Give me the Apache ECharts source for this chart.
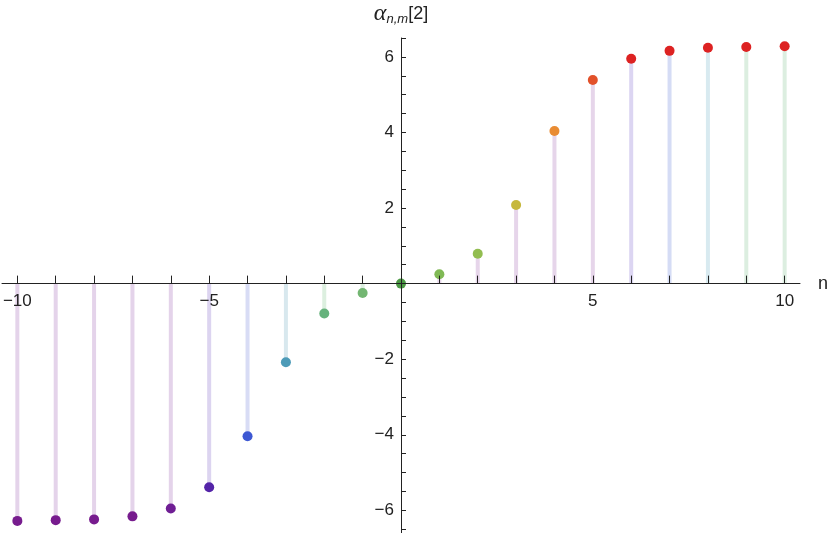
<!DOCTYPE html>
<html>
<head>
<meta charset="utf-8">
<script src="https://cdn.jsdelivr.net/npm/echarts@6/dist/echarts.min.js"></script>
<style>
  html, body { margin: 0; padding: 0; background: #fff; }
  #chart { width: 830px; height: 533px; }
</style>
</head>
<body>
<div id="chart"></div>
<script>
// n values and alpha_{n,m}[2]
var nValues = [-10, -9, -8, -7, -6, -5, -4, -3, -2, -1, 0, 1, 2, 3, 4, 5, 6, 7, 8, 9, 10];
var alphaValues = [-6.28, -6.26, -6.24, -6.16, -5.95, -5.39, -4.04, -2.08, -0.79, -0.25, 0,
                   0.25, 0.79, 2.08, 4.04, 5.39, 5.95, 6.16, 6.24, 6.26, 6.28];
var dotColors = ['#771c8e', '#771c8e', '#771c8e', '#771c8e', '#6f1e94', '#5424a8', '#3d58d3',
                 '#4d9bb8', '#66b27c', '#73b672', '#4c9a44', '#80b955', '#92bd50', '#c6b83c',
                 '#e98c33', '#e2512a', '#dd2222', '#dd2222', '#dd2222', '#dd2222', '#dd2222'];
var stemColors = ['#e4d3ea', '#e4d3ea', '#e4d3ea', '#e4d3ea', '#e4d3ea', '#dcd4f0', '#d8dcf5',
                  '#d8e8ee', '#dcefdf', '#dcefdf', 'rgba(0,0,0,0)', '#e6d5ea', '#e6d5ea', '#e6d5ea',
                  '#e6d5ea', '#e6d5ea', '#dcd5f2', '#d5dcf5', '#d8eaf0', '#dceee0', '#dceee0'];
var xLabelValues = [-10, -5, 5, 10];
var yLabelValues = [-6, -4, -2, 2, 4, 6];

var xTickValues = [];
for (var i = -10; i <= 10; i++) xTickValues.push(i);
var yTickValues = [];
for (var j = -13; j <= 13; j++) yTickValues.push(j / 2);

var stemData = [], dotData = [];
for (var k = 0; k < nValues.length; k++) {
    stemData.push({ value: [nValues[k], alphaValues[k]], itemStyle: { color: stemColors[k] } });
    dotData.push({ value: [nValues[k], alphaValues[k]], itemStyle: { color: dotColors[k], opacity: 1 } });
}

// plot box: x -10.4..10.4 over 798px, y -6.6..6.5 over 495px
var gridLeft = 2, gridRight = 30, gridTop = 38, gridBottom = 0;
var W = 830, H = 533;
var xMin = -10.4, xMax = 10.4, yMin = -6.6, yMax = 6.5;
var zeroX = gridLeft + (0 - xMin) / (xMax - xMin) * (W - gridLeft - gridRight);
var zeroY = gridTop + (yMax - 0) / (yMax - yMin) * (H - gridTop - gridBottom);

var myChart = echarts.init(document.getElementById('chart'));
var txt = { color: '#222', fontFamily: 'Liberation Sans', fontSize: 17 };
function minusFmt(v) { return v < 0 ? '\u2212' + (-v) : '' + v; }

var option = {
    animation: false,
    grid: { left: gridLeft, right: gridRight, top: gridTop, bottom: gridBottom,
            outerBoundsMode: 'none', containLabel: false },
    xAxis: {
        type: 'value',
        min: xMin,
        max: xMax,
        position: 'bottom',
        offset: -(H - gridBottom - zeroY),
        z: 5,
        name: 'n',
        nameLocation: 'end',
        nameGap: 18,
        nameTextStyle: { color: '#222', fontFamily: 'Liberation Sans', fontSize: 18 },
        splitLine: { show: false },
        axisLine: { onZero: false, lineStyle: { color: '#222', width: 1 } },
        axisTick: { inside: true, length: 8, customValues: xTickValues, lineStyle: { color: '#222' } },
        axisLabel: Object.assign({ margin: 9, customValues: xLabelValues, formatter: minusFmt }, txt)
    },
    yAxis: {
        type: 'value',
        min: yMin,
        max: yMax,
        position: 'left',
        offset: -(zeroX - gridLeft),
        z: 5,
        name: '{a|\u03b1}{s|n,m}{b|[2]}',
        nameLocation: 'end',
        nameGap: 12,
        nameTextStyle: {
            rich: {
                a: { fontFamily: 'Liberation Serif', fontStyle: 'italic', fontSize: 24, color: '#222' },
                s: { fontFamily: 'Liberation Sans', fontStyle: 'italic', fontSize: 13, color: '#222', padding: [10, 0, 0, 0] },
                b: { fontFamily: 'Liberation Sans', fontSize: 18, color: '#222' }
            }
        },
        splitLine: { show: false },
        axisLine: { onZero: false, lineStyle: { color: '#222', width: 1 } },
        axisTick: { inside: true, length: 5, customValues: yTickValues, lineStyle: { color: '#222' } },
        axisLabel: Object.assign({ margin: 7, customValues: yLabelValues, formatter: minusFmt }, txt)
    },
    series: [
        {
            type: 'bar',
            barWidth: 4,
            data: stemData,
            z: 2
        },
        {
            type: 'scatter',
            symbolSize: 10,
            data: dotData,
            z: 3
        }
    ]
};
myChart.setOption(option);
</script>
</body>
</html>
